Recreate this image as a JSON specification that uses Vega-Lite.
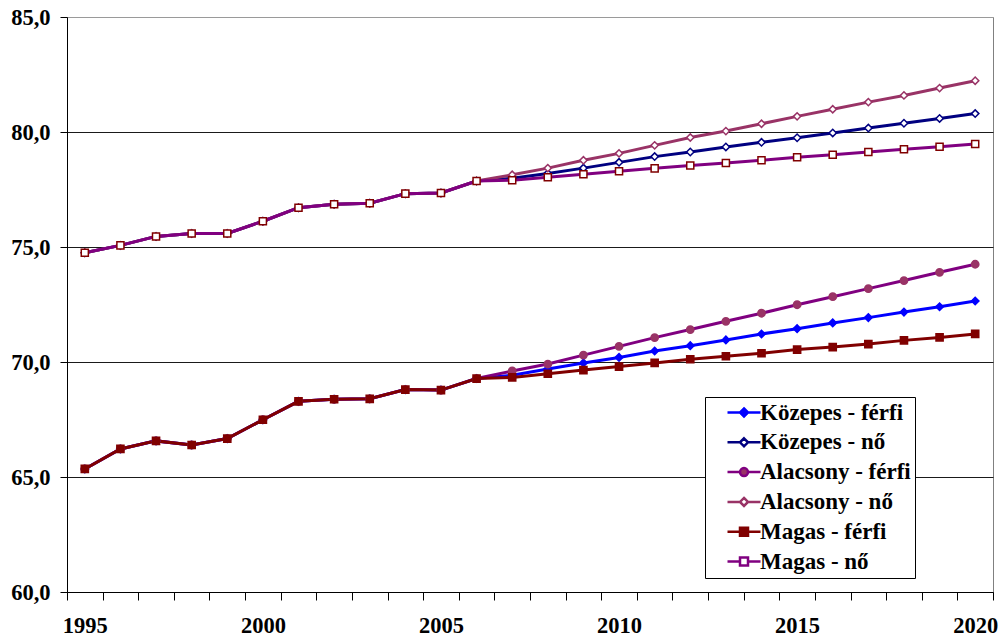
{
  "$schema": "https://vega.github.io/schema/vega-lite/v6.json",
  "width": 926,
  "height": 575,
  "autosize": {"type": "none"},
  "padding": {"left": 67, "top": 17, "right": 9, "bottom": 47},
  "background": "white",
  "config": {
    "view": {"stroke": "#808080", "strokeWidth": 1},
    "axis": {
      "labelFont": "Liberation Serif",
      "labelFontWeight": "bold",
      "labelFontSize": 22.5,
      "labelColor": "black",
      "domainColor": "black",
      "domainWidth": 1,
      "tickColor": "black",
      "tickWidth": 1
    },
    "legend": {
      "orient": "none",
      "legendX": 638,
      "legendY": 380,
      "strokeColor": "black",
      "fillColor": "white",
      "padding": 4,
      "labelFont": "Liberation Serif",
      "labelFontWeight": "bold",
      "labelFontSize": 23,
      "labelColor": "black",
      "labelLimit": 0,
      "symbolSize": 100,
      "symbolStrokeWidth": 2.5,
      "symbolOpacity": 1,
      "symbolOffset": 23.5,
      "labelOffset": 4.5,
      "rowPadding": 5.8
    }
  },
  "data": {
    "values": [
      {"ev": 1995, "sorozat": "Közepes - férfi", "v": 65.35},
      {"ev": 1996, "sorozat": "Közepes - férfi", "v": 66.22},
      {"ev": 1997, "sorozat": "Közepes - férfi", "v": 66.57},
      {"ev": 1998, "sorozat": "Közepes - férfi", "v": 66.39},
      {"ev": 1999, "sorozat": "Közepes - férfi", "v": 66.67},
      {"ev": 2000, "sorozat": "Közepes - férfi", "v": 67.49},
      {"ev": 2001, "sorozat": "Közepes - férfi", "v": 68.29},
      {"ev": 2002, "sorozat": "Közepes - férfi", "v": 68.38},
      {"ev": 2003, "sorozat": "Közepes - férfi", "v": 68.40},
      {"ev": 2004, "sorozat": "Közepes - férfi", "v": 68.80},
      {"ev": 2005, "sorozat": "Közepes - férfi", "v": 68.78},
      {"ev": 2006, "sorozat": "Közepes - férfi", "v": 69.28},
      {"ev": 2007, "sorozat": "Közepes - férfi", "v": 69.42},
      {"ev": 2008, "sorozat": "Közepes - férfi", "v": 69.70},
      {"ev": 2009, "sorozat": "Közepes - férfi", "v": 69.96},
      {"ev": 2010, "sorozat": "Közepes - férfi", "v": 70.20},
      {"ev": 2011, "sorozat": "Közepes - férfi", "v": 70.48},
      {"ev": 2012, "sorozat": "Közepes - férfi", "v": 70.71},
      {"ev": 2013, "sorozat": "Közepes - férfi", "v": 70.96},
      {"ev": 2014, "sorozat": "Közepes - férfi", "v": 71.22},
      {"ev": 2015, "sorozat": "Közepes - férfi", "v": 71.45},
      {"ev": 2016, "sorozat": "Közepes - férfi", "v": 71.70},
      {"ev": 2017, "sorozat": "Közepes - férfi", "v": 71.93},
      {"ev": 2018, "sorozat": "Közepes - férfi", "v": 72.17},
      {"ev": 2019, "sorozat": "Közepes - férfi", "v": 72.40},
      {"ev": 2020, "sorozat": "Közepes - férfi", "v": 72.65},

      {"ev": 1995, "sorozat": "Közepes - nő", "v": 74.75},
      {"ev": 1996, "sorozat": "Közepes - nő", "v": 75.07},
      {"ev": 1997, "sorozat": "Közepes - nő", "v": 75.46},
      {"ev": 1998, "sorozat": "Közepes - nő", "v": 75.59},
      {"ev": 1999, "sorozat": "Közepes - nő", "v": 75.59},
      {"ev": 2000, "sorozat": "Közepes - nő", "v": 76.12},
      {"ev": 2001, "sorozat": "Közepes - nő", "v": 76.71},
      {"ev": 2002, "sorozat": "Közepes - nő", "v": 76.86},
      {"ev": 2003, "sorozat": "Közepes - nő", "v": 76.90},
      {"ev": 2004, "sorozat": "Közepes - nő", "v": 77.32},
      {"ev": 2005, "sorozat": "Közepes - nő", "v": 77.35},
      {"ev": 2006, "sorozat": "Közepes - nő", "v": 77.87},
      {"ev": 2007, "sorozat": "Közepes - nő", "v": 77.99},
      {"ev": 2008, "sorozat": "Közepes - nő", "v": 78.20},
      {"ev": 2009, "sorozat": "Közepes - nő", "v": 78.43},
      {"ev": 2010, "sorozat": "Közepes - nő", "v": 78.68},
      {"ev": 2011, "sorozat": "Közepes - nő", "v": 78.93},
      {"ev": 2012, "sorozat": "Közepes - nő", "v": 79.13},
      {"ev": 2013, "sorozat": "Közepes - nő", "v": 79.35},
      {"ev": 2014, "sorozat": "Közepes - nő", "v": 79.55},
      {"ev": 2015, "sorozat": "Közepes - nő", "v": 79.75},
      {"ev": 2016, "sorozat": "Közepes - nő", "v": 79.96},
      {"ev": 2017, "sorozat": "Közepes - nő", "v": 80.17},
      {"ev": 2018, "sorozat": "Közepes - nő", "v": 80.38},
      {"ev": 2019, "sorozat": "Közepes - nő", "v": 80.59},
      {"ev": 2020, "sorozat": "Közepes - nő", "v": 80.80},

      {"ev": 1995, "sorozat": "Alacsony - férfi", "v": 65.35},
      {"ev": 1996, "sorozat": "Alacsony - férfi", "v": 66.22},
      {"ev": 1997, "sorozat": "Alacsony - férfi", "v": 66.57},
      {"ev": 1998, "sorozat": "Alacsony - férfi", "v": 66.39},
      {"ev": 1999, "sorozat": "Alacsony - férfi", "v": 66.67},
      {"ev": 2000, "sorozat": "Alacsony - férfi", "v": 67.49},
      {"ev": 2001, "sorozat": "Alacsony - férfi", "v": 68.29},
      {"ev": 2002, "sorozat": "Alacsony - férfi", "v": 68.38},
      {"ev": 2003, "sorozat": "Alacsony - férfi", "v": 68.40},
      {"ev": 2004, "sorozat": "Alacsony - férfi", "v": 68.80},
      {"ev": 2005, "sorozat": "Alacsony - férfi", "v": 68.78},
      {"ev": 2006, "sorozat": "Alacsony - férfi", "v": 69.28},
      {"ev": 2007, "sorozat": "Alacsony - férfi", "v": 69.61},
      {"ev": 2008, "sorozat": "Alacsony - férfi", "v": 69.91},
      {"ev": 2009, "sorozat": "Alacsony - férfi", "v": 70.30},
      {"ev": 2010, "sorozat": "Alacsony - férfi", "v": 70.68},
      {"ev": 2011, "sorozat": "Alacsony - férfi", "v": 71.06},
      {"ev": 2012, "sorozat": "Alacsony - férfi", "v": 71.41},
      {"ev": 2013, "sorozat": "Alacsony - férfi", "v": 71.77},
      {"ev": 2014, "sorozat": "Alacsony - férfi", "v": 72.12},
      {"ev": 2015, "sorozat": "Alacsony - férfi", "v": 72.49},
      {"ev": 2016, "sorozat": "Alacsony - férfi", "v": 72.84},
      {"ev": 2017, "sorozat": "Alacsony - férfi", "v": 73.19},
      {"ev": 2018, "sorozat": "Alacsony - férfi", "v": 73.54},
      {"ev": 2019, "sorozat": "Alacsony - férfi", "v": 73.90},
      {"ev": 2020, "sorozat": "Alacsony - férfi", "v": 74.25},

      {"ev": 1995, "sorozat": "Alacsony - nő", "v": 74.75},
      {"ev": 1996, "sorozat": "Alacsony - nő", "v": 75.07},
      {"ev": 1997, "sorozat": "Alacsony - nő", "v": 75.46},
      {"ev": 1998, "sorozat": "Alacsony - nő", "v": 75.59},
      {"ev": 1999, "sorozat": "Alacsony - nő", "v": 75.59},
      {"ev": 2000, "sorozat": "Alacsony - nő", "v": 76.12},
      {"ev": 2001, "sorozat": "Alacsony - nő", "v": 76.71},
      {"ev": 2002, "sorozat": "Alacsony - nő", "v": 76.86},
      {"ev": 2003, "sorozat": "Alacsony - nő", "v": 76.90},
      {"ev": 2004, "sorozat": "Alacsony - nő", "v": 77.32},
      {"ev": 2005, "sorozat": "Alacsony - nő", "v": 77.35},
      {"ev": 2006, "sorozat": "Alacsony - nő", "v": 77.87},
      {"ev": 2007, "sorozat": "Alacsony - nő", "v": 78.14},
      {"ev": 2008, "sorozat": "Alacsony - nő", "v": 78.43},
      {"ev": 2009, "sorozat": "Alacsony - nő", "v": 78.77},
      {"ev": 2010, "sorozat": "Alacsony - nő", "v": 79.07},
      {"ev": 2011, "sorozat": "Alacsony - nő", "v": 79.42},
      {"ev": 2012, "sorozat": "Alacsony - nő", "v": 79.76},
      {"ev": 2013, "sorozat": "Alacsony - nő", "v": 80.04},
      {"ev": 2014, "sorozat": "Alacsony - nő", "v": 80.36},
      {"ev": 2015, "sorozat": "Alacsony - nő", "v": 80.68},
      {"ev": 2016, "sorozat": "Alacsony - nő", "v": 80.99},
      {"ev": 2017, "sorozat": "Alacsony - nő", "v": 81.30},
      {"ev": 2018, "sorozat": "Alacsony - nő", "v": 81.59},
      {"ev": 2019, "sorozat": "Alacsony - nő", "v": 81.91},
      {"ev": 2020, "sorozat": "Alacsony - nő", "v": 82.23},

      {"ev": 1995, "sorozat": "Magas - férfi", "v": 65.35},
      {"ev": 1996, "sorozat": "Magas - férfi", "v": 66.22},
      {"ev": 1997, "sorozat": "Magas - férfi", "v": 66.57},
      {"ev": 1998, "sorozat": "Magas - férfi", "v": 66.39},
      {"ev": 1999, "sorozat": "Magas - férfi", "v": 66.67},
      {"ev": 2000, "sorozat": "Magas - férfi", "v": 67.49},
      {"ev": 2001, "sorozat": "Magas - férfi", "v": 68.29},
      {"ev": 2002, "sorozat": "Magas - férfi", "v": 68.38},
      {"ev": 2003, "sorozat": "Magas - férfi", "v": 68.40},
      {"ev": 2004, "sorozat": "Magas - férfi", "v": 68.80},
      {"ev": 2005, "sorozat": "Magas - férfi", "v": 68.78},
      {"ev": 2006, "sorozat": "Magas - férfi", "v": 69.28},
      {"ev": 2007, "sorozat": "Magas - férfi", "v": 69.33},
      {"ev": 2008, "sorozat": "Magas - férfi", "v": 69.49},
      {"ev": 2009, "sorozat": "Magas - férfi", "v": 69.65},
      {"ev": 2010, "sorozat": "Magas - férfi", "v": 69.80},
      {"ev": 2011, "sorozat": "Magas - férfi", "v": 69.96},
      {"ev": 2012, "sorozat": "Magas - férfi", "v": 70.12},
      {"ev": 2013, "sorozat": "Magas - férfi", "v": 70.25},
      {"ev": 2014, "sorozat": "Magas - férfi", "v": 70.38},
      {"ev": 2015, "sorozat": "Magas - férfi", "v": 70.54},
      {"ev": 2016, "sorozat": "Magas - férfi", "v": 70.65},
      {"ev": 2017, "sorozat": "Magas - férfi", "v": 70.78},
      {"ev": 2018, "sorozat": "Magas - férfi", "v": 70.94},
      {"ev": 2019, "sorozat": "Magas - férfi", "v": 71.07},
      {"ev": 2020, "sorozat": "Magas - férfi", "v": 71.22},

      {"ev": 1995, "sorozat": "Magas - nő", "v": 74.75},
      {"ev": 1996, "sorozat": "Magas - nő", "v": 75.07},
      {"ev": 1997, "sorozat": "Magas - nő", "v": 75.46},
      {"ev": 1998, "sorozat": "Magas - nő", "v": 75.59},
      {"ev": 1999, "sorozat": "Magas - nő", "v": 75.59},
      {"ev": 2000, "sorozat": "Magas - nő", "v": 76.12},
      {"ev": 2001, "sorozat": "Magas - nő", "v": 76.71},
      {"ev": 2002, "sorozat": "Magas - nő", "v": 76.86},
      {"ev": 2003, "sorozat": "Magas - nő", "v": 76.90},
      {"ev": 2004, "sorozat": "Magas - nő", "v": 77.32},
      {"ev": 2005, "sorozat": "Magas - nő", "v": 77.35},
      {"ev": 2006, "sorozat": "Magas - nő", "v": 77.87},
      {"ev": 2007, "sorozat": "Magas - nő", "v": 77.90},
      {"ev": 2008, "sorozat": "Magas - nő", "v": 78.03},
      {"ev": 2009, "sorozat": "Magas - nő", "v": 78.16},
      {"ev": 2010, "sorozat": "Magas - nő", "v": 78.29},
      {"ev": 2011, "sorozat": "Magas - nő", "v": 78.42},
      {"ev": 2012, "sorozat": "Magas - nő", "v": 78.54},
      {"ev": 2013, "sorozat": "Magas - nő", "v": 78.65},
      {"ev": 2014, "sorozat": "Magas - nő", "v": 78.77},
      {"ev": 2015, "sorozat": "Magas - nő", "v": 78.90},
      {"ev": 2016, "sorozat": "Magas - nő", "v": 79.01},
      {"ev": 2017, "sorozat": "Magas - nő", "v": 79.13},
      {"ev": 2018, "sorozat": "Magas - nő", "v": 79.25},
      {"ev": 2019, "sorozat": "Magas - nő", "v": 79.36},
      {"ev": 2020, "sorozat": "Magas - nő", "v": 79.48}
    ]
  },
  "encoding": {
    "x": {
      "field": "ev",
      "type": "ordinal",
      "scale": {"type": "band", "paddingInner": 0, "paddingOuter": 0},
      "axis": {
        "title": null,
        "grid": false,
        "tickBand": "extent",
        "tickSize": 8,
        "labelAngle": 0,
        "labelPadding": 14,
        "labelExpr": "datum.value % 5 === 0 ? datum.label : ''"
      }
    },
    "y": {
      "field": "v",
      "type": "quantitative",
      "scale": {"domain": [60, 85], "nice": false, "zero": false},
      "axis": {
        "title": null,
        "values": [60, 65, 70, 75, 80, 85],
        "tickSize": 7,
        "labelPadding": 10,
        "grid": true,
        "gridColor": {"condition": {"test": "datum.value === 85", "value": "#9a9a9a"}, "value": "#1a1a1a"},
        "gridWidth": 1,
        "labelExpr": "replace(format(datum.value, '.1f'), '.', ',')"
      }
    }
  },
  "layer": [
    {
      "mark": {"type": "line", "strokeWidth": 3},
      "encoding": {
        "color": {
          "field": "sorozat",
          "type": "nominal",
          "scale": {
            "domain": ["Közepes - férfi", "Közepes - nő", "Alacsony - férfi", "Alacsony - nő", "Magas - férfi", "Magas - nő"],
            "range": ["#0000FF", "#000080", "#800080", "#993366", "#800000", "#800080"]
          },
          "legend": null
        }
      }
    },
    {
      "mark": {"type": "point", "strokeWidth": 1.5, "opacity": 1},
      "encoding": {
        "shape": {
          "field": "sorozat",
          "type": "nominal",
          "scale": {
            "domain": ["Közepes - férfi", "Közepes - nő", "Alacsony - férfi", "Alacsony - nő", "Magas - férfi", "Magas - nő"],
            "range": ["diamond", "diamond", "circle", "diamond", "square", "square"]
          },
          "legend": null
        },
        "fill": {
          "field": "sorozat",
          "type": "nominal",
          "scale": {
            "domain": ["Közepes - férfi", "Közepes - nő", "Alacsony - férfi", "Alacsony - nő", "Magas - férfi", "Magas - nő"],
            "range": ["#0000FF", "#FFFFFF", "#993366", "#FFFFFF", "#800000", "#FFFFFF"]
          },
          "legend": null
        },
        "stroke": {
          "field": "sorozat",
          "type": "nominal",
          "scale": {
            "domain": ["Közepes - férfi", "Közepes - nő", "Alacsony - férfi", "Alacsony - nő", "Magas - férfi", "Magas - nő"],
            "range": ["#0000FF", "#000080", "#993366", "#993366", "#800000", "#800000"]
          },
          "legend": null
        },
        "size": {
          "field": "sorozat",
          "type": "ordinal",
          "scale": {
            "domain": ["Közepes - férfi", "Közepes - nő", "Alacsony - férfi", "Alacsony - nő", "Magas - férfi", "Magas - nő"],
            "range": [56, 50, 78, 50, 80, 72]
          },
          "legend": null
        }
      }
    },
    {
      "transform": [{"filter": "datum.ev === 1995"}],
      "mark": {"type": "point", "opacity": 0},
      "encoding": {
        "shape": {
          "field": "sorozat",
          "type": "nominal",
          "title": null,
          "scale": {
            "domain": ["Közepes - férfi", "Közepes - nő", "Alacsony - férfi", "Alacsony - nő", "Magas - férfi", "Magas - nő"],
            "range": [
              "M-3.3,0H-0.8M0.8,0H3.3M0,-0.8L0.8,0L0,0.8L-0.8,0Z",
              "M-3.3,0H-0.8M0.8,0H3.3M0,-0.8L0.8,0L0,0.8L-0.8,0Z",
              "M-3.3,0H-0.8M0.8,0H3.3M0.8,0A0.8,0.8 0 1,1 -0.8,0A0.8,0.8 0 1,1 0.8,0Z",
              "M-3.3,0H-0.8M0.8,0H3.3M0,-0.8L0.8,0L0,0.8L-0.8,0Z",
              "M-3.3,0H-0.8M0.8,0H3.3M-0.8,-0.8H0.8V0.8H-0.8Z",
              "M-3.3,0H-0.8M0.8,0H3.3M-0.8,-0.8H0.8V0.8H-0.8Z"
            ]
          }
        },
        "fill": {
          "field": "sorozat",
          "type": "nominal",
          "title": null,
          "scale": {
            "domain": ["Közepes - férfi", "Közepes - nő", "Alacsony - férfi", "Alacsony - nő", "Magas - férfi", "Magas - nő"],
            "range": ["#0000FF", "#FFFFFF", "#993366", "#FFFFFF", "#800000", "#FFFFFF"]
          }
        },
        "stroke": {
          "field": "sorozat",
          "type": "nominal",
          "title": null,
          "scale": {
            "domain": ["Közepes - férfi", "Közepes - nő", "Alacsony - férfi", "Alacsony - nő", "Magas - férfi", "Magas - nő"],
            "range": ["#0000FF", "#000080", "#800080", "#993366", "#800000", "#800080"]
          }
        }
      }
    }
  ],
  "resolve": {
    "scale": {"shape": "independent", "fill": "independent", "stroke": "independent", "size": "independent"}
  }
}
